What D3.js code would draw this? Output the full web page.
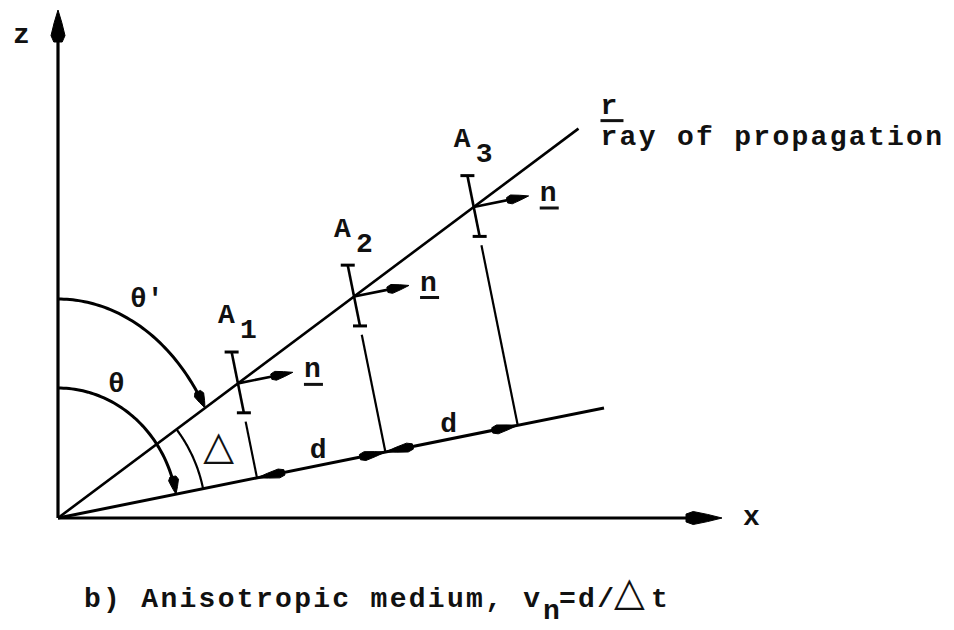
<!DOCTYPE html>
<html><head><meta charset="utf-8">
<script src="https://cdn.jsdelivr.net/npm/d3@7"></script>
<style>body{margin:0;background:#fff}</style>
</head><body>
<script>
// ---------------- data ----------------
const axisNames = ["x", "z"];
const axisExtent = [664, 508];              // lengths of x and z axes (data units)
const rayAngleDeg = 36.8;                   // direction of ray r
const rayLength = 650;
const normalAngleDeg = 11.4;                // direction of wavefront normal n
const normalLength = 557;
const wavefrontDistances = [203, 334, 469]; // distance of each wavefront along the normal
const wavefrontSubs = ["1", "2", "3"];
const distanceLabels = ["d", "d"];
const thetaPrimeRadii = [170, 219];         // elliptical arc for θ'
const thetaRadii = [120, 130];              // elliptical arc for θ
const deltaRadius = 148;
const angleLabels = ["θ'", "θ", "△"];
const rayLabel = "r";
const rayCaption = "ray of propagation";
const normalLabel = "n";
const captionParts = ["b) Anisotropic medium, v", "n", "=d/", "△", "t"];

// ---------------- drawing ----------------
const W = 954, H = 630;
const svg = d3.select("body").append("svg").attr("width", W).attr("height", H);
const sx = d3.scaleLinear().domain([0, axisExtent[0]]).range([58, 722]);
const sy = d3.scaleLinear().domain([0, axisExtent[1]]).range([518, 10]);
const line = d3.line().x(d => sx(d[0])).y(d => sy(d[1]));
const rad = Math.PI / 180;
const th = rayAngleDeg * rad, ph = normalAngleDeg * rad;
const add = (a, b, k = 1) => [a[0] + k * b[0], a[1] + k * b[1]];
const e = [Math.cos(ph), Math.sin(ph)];
const u = [-Math.sin(ph), Math.cos(ph)];
const rdir = [Math.cos(th), Math.sin(th)];

function seg(a, b, w) {
  svg.append("path").attr("d", line([a, b])).attr("stroke", "#000")
    .attr("stroke-width", w).attr("fill", "none").attr("stroke-linecap", "butt");
}
function head(tip, dir, L, w) {
  const n = Math.hypot(dir[0], dir[1]);
  const v = [dir[0] / n, dir[1] / n], p = [-v[1], v[0]];
  const shape = [[0, 0], [-0.4 * L, 0.55 * w], [-0.8 * L, w], [-L, 0.6 * w],
                 [-L, -0.6 * w], [-0.8 * L, -w], [-0.4 * L, -0.55 * w]];
  const pts = shape.map(([a, b]) => [tip[0] + a * v[0] + b * p[0], tip[1] + a * v[1] + b * p[1]]);
  svg.append("path").attr("d", line(pts) + "Z").attr("fill", "#000").attr("stroke", "#000").attr("stroke-width", 1);
}
const font = "'Liberation Mono', monospace";
function txt(s, x, y, opt = {}) {
  return svg.append("text").attr("x", x).attr("y", y).text(s)
    .attr("font-family", opt.family || font).attr("font-weight", opt.weight || "bold")
    .attr("font-size", opt.size || 28).attr("letter-spacing", opt.ls != null ? opt.ls : 2.3)
    .attr("text-anchor", opt.anchor || "start").attr("fill", "#111");
}

// axes
seg([0, 0], [axisExtent[0] - 30, 0], 3.2);
head([axisExtent[0], 0], [1, 0], 36, 6.5);
seg([0, 0], [0, axisExtent[1] - 26], 3.2);
head([0, axisExtent[1]], [0, 1], 32, 7);
txt(axisNames[0], sx(axisExtent[0]) + 21, sy(-7));
txt(axisNames[1], sx(-45), sy(475));

// ray and normal line
const rayEnd = [rayLength * rdir[0], rayLength * rdir[1]];
seg([0, 0], rayEnd, 2.6);
seg([0, 0], [normalLength * e[0], normalLength * e[1]], 3);
txt(rayLabel, sx(rayEnd[0]) + 22, sy(rayEnd[1]) - 15);
svg.append("path").attr("d", line([[rayEnd[0] + 22, rayEnd[1] + 8], [rayEnd[0] + 45, rayEnd[1] + 8]]))
  .attr("stroke", "#111").attr("stroke-width", 3);
txt(rayCaption, sx(rayEnd[0]) + 22, sy(rayEnd[1]) + 16);

// wavefronts
const feet = [];
wavefrontDistances.forEach((s, i) => {
  const foot = [s * e[0], s * e[1]];
  feet.push(foot);
  const P = add(foot, u, s * Math.tan(th - ph));
  const top = add(P, u, 32), bot = add(P, u, -30);
  seg(bot, top, 2.6);
  seg(add(top, [-7, 0]), add(top, [7, 0]), 3);
  seg(add(bot, [-7, 0]), add(bot, [7, 0]), 3);
  seg(foot, add(P, u, -39), 2.2);
  // normal arrow
  seg(P, add(P, e, 40), 2.6);
  head(add(P, e, 56), e, 22, 4.5);
  const nx = sx(P[0]) + 66, ny = sy(P[1]) - 6;
  txt(normalLabel, nx, ny);
  svg.append("path").attr("d", `M${nx},${ny + 7}H${nx + 19}`).attr("stroke", "#111").attr("stroke-width", 3);
  // label A_i
  txt("A", sx(P[0]) - 20, sy(P[1]) - 60);
  txt(wavefrontSubs[i], sx(P[0]) + 2, sy(P[1]) - 45);
});

// dimension arrows along the normal line
head(feet[0], [-e[0], -e[1]], 28, 4.5);
head(feet[1], e, 26, 4.5);
head(feet[1], [-e[0], -e[1]], 28, 4.5);
head(feet[2], e, 26, 4.5);
distanceLabels.forEach((lab, i) => {
  const m = [(feet[i][0] + feet[i + 1][0]) / 2, (feet[i][1] + feet[i + 1][1]) / 2];
  txt(lab, sx(m[0]) - 3, sy(m[1]) - 7, { anchor: "middle", ls: 0 });
});

// angle arcs
function ellArc(a, b, t0, t1, n = 60) {
  return d3.range(n + 1).map(k => { const t = t0 + (t1 - t0) * k / n; return [a * Math.cos(t), b * Math.sin(t)]; });
}
function arcWithHead(radii, angle) {
  const [a, b] = radii;
  const tEnd = Math.atan((a / b) * Math.tan(angle));
  const pts = ellArc(a, b, Math.PI / 2, tEnd);
  const tip = pts[pts.length - 1];
  const dir = [a * Math.sin(tEnd), -b * Math.cos(tEnd)];
  const trimmed = pts.filter(p => Math.hypot(p[0] - tip[0], p[1] - tip[1]) > 10);
  svg.append("path").attr("d", line(trimmed)).attr("fill", "none").attr("stroke", "#000").attr("stroke-width", 3);
  head(tip, dir, 18, 5);
}
arcWithHead(thetaPrimeRadii, th);
arcWithHead(thetaRadii, ph);
svg.append("path").attr("d", line(ellArc(deltaRadius, deltaRadius, ph, th)))
  .attr("fill", "none").attr("stroke", "#000").attr("stroke-width", 2.2);

txt(angleLabels[0], sx(72), sy(211), { ls: 0 });
txt(angleLabels[1], sx(50), sy(126), { ls: 0 });
const mid = (th + ph) / 2;
txt(angleLabels[2], sx(176 * Math.cos(mid)), sy(176 * Math.sin(mid)) + 13,
    { family: "'DejaVu Sans'", weight: "normal", size: 40, anchor: "middle", ls: 0 });

// caption
txt(captionParts[0], 84, 607);
txt(captionParts[1], 543, 619);
txt(captionParts[2], 559, 607);
txt(captionParts[3], 614, 605, { family: "'DejaVu Sans'", weight: "normal", size: 40, ls: 0 });
txt(captionParts[4], 651, 607);
</script>
</body></html>
